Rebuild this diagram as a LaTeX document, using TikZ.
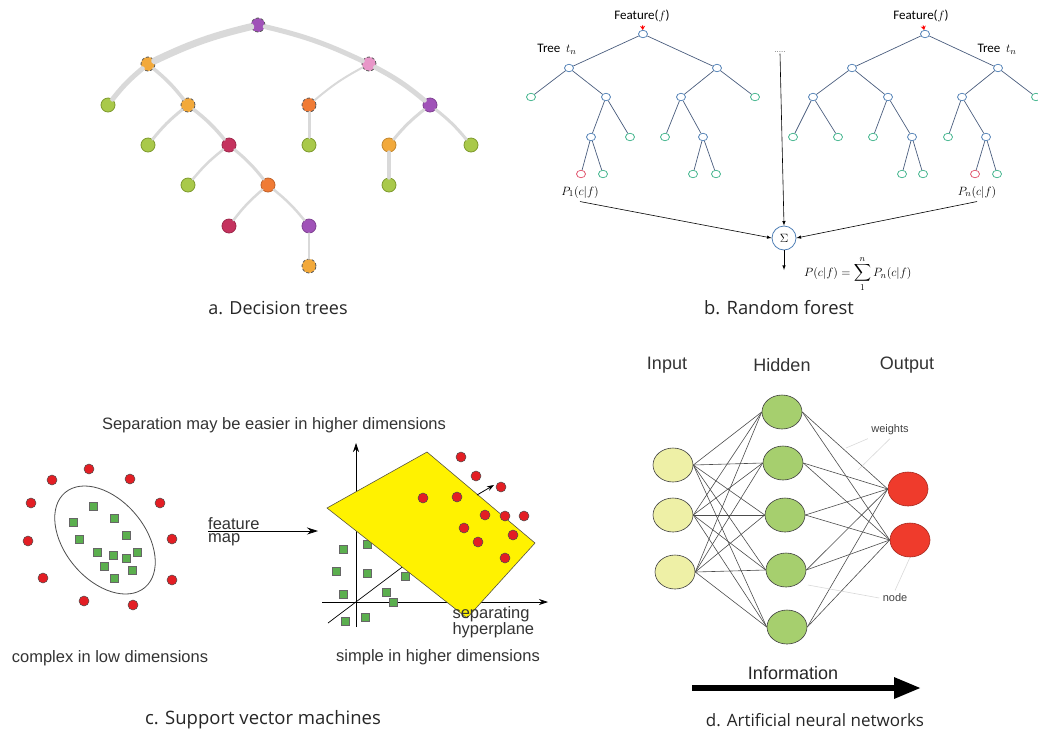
\documentclass[tikz,border=0pt]{standalone}
\usepackage{amsmath}
\usepackage{fontspec}
\setmainfont{Liberation Sans}
\newfontfamily\capfont{Open Sans}
\newfontfamily\rffont{Carlito}
\usepackage{tikz}
\usetikzlibrary{positioning,arrows.meta,shapes.geometric}

\definecolor{dtgray}{HTML}{D9D9D9}
\definecolor{dtgreen}{HTML}{A9C94A}
\definecolor{dtgreenline}{HTML}{7E9A2E}
\definecolor{dtorange}{HTML}{F2A93B}
\definecolor{dtorred}{HTML}{F07B35}
\definecolor{dtpurple}{HTML}{A052B8}
\definecolor{dtpink}{HTML}{E896C8}
\definecolor{dtcrimson}{HTML}{C5325E}
\definecolor{rfblue}{HTML}{4F7FB5}
\definecolor{rfline}{HTML}{4A5D7E}
\definecolor{rfgreen}{HTML}{3DB38A}
\definecolor{rfred}{HTML}{E0506A}
\definecolor{svred}{HTML}{E31E24}
\definecolor{svgreen}{HTML}{5BAF4E}
\definecolor{svyellow}{HTML}{FFF200}
\definecolor{annyel}{HTML}{EEF0A6}
\definecolor{anngreen}{HTML}{A6CF6E}
\definecolor{annred}{HTML}{EF3B2C}

\tikzset{
	dtnode/.style={circle,minimum size=14pt,inner sep=0pt,line width=0.8pt},
	dtleaf/.style={dtnode,fill=dtgreen,draw=dtgreenline},
	dtdash/.style={dtnode,draw=black!65,densely dashed},
	dtedge/.style={draw=dtgray,line cap=round},
	rfnode/.style={ellipse,minimum width=9pt,minimum height=7.5pt,inner sep=0pt,draw=rfblue,fill=white,line width=0.7pt},
	rfleaf/.style={rfnode,draw=rfgreen},
	rfedge/.style={draw=rfline,line width=0.7pt},
	svdot/.style={circle,minimum size=10pt,inner sep=0pt,fill=svred,draw=black!70,line width=0.5pt},
	svsq/.style={rectangle,minimum size=7.5pt,inner sep=0pt,fill=svgreen,draw=black!60,line width=0.5pt},
	annnode/.style={ellipse,minimum width=40pt,minimum height=34pt,inner sep=0pt,draw=black!75,line width=0.6pt},
	annedge/.style={draw=black!70,line width=0.6pt},
	caption/.style={font=\capfont\fontsize{18}{21}\selectfont,text=black!85},
	svtext/.style={font=\fontsize{16.5}{19}\selectfont,text=black!80},
	rftext/.style={font=\rffont\fontsize{13}{15}\selectfont}
}

\begin{document}
\begin{tikzpicture}[x=1pt,y=-1pt]
	\useasboundingbox (0,0) rectangle (1038,732);

	% a. decision tree
	\foreach \n/\x/\y/\s in {dt0/258/25/dtpurple, dt1/148/64/dtorange, dt2/369/64/dtpink,
		dt4/188/105/dtorange, dt5/309/105/dtorred, dt17/309/266/dtorange}
		\node[dtdash,fill=\s] (\n) at (\x,\y) {};
	\foreach \n/\x/\y/\s in {dt6/430/105/dtpurple, dt8/229/145/dtcrimson, dt10/389/145/dtorange,
		dt13/268/185/dtorred, dt15/229/226/dtcrimson, dt16/309/226/dtpurple}
		\node[dtnode,fill=\s,draw=\s!80!black] (\n) at (\x,\y) {};
	\foreach \n/\x/\y in {dt3/108/105, dt7/148/145, dt9/309/145, dt11/471/145, dt12/188/185, dt14/389/185}
		\node[dtleaf] (\n) at (\x,\y) {};

	\foreach \a/\b/\w in {dt0/dt1/7, dt1/dt3/5, dt4/dt7/3, dt8/dt12/2.5, dt13/dt15/2.5, dt2/dt5/2, dt6/dt10/3}
		\draw[dtedge,line width=\w pt] (\a) to[bend right=6] (\b);
	\foreach \a/\b/\w in {dt0/dt2/5, dt1/dt4/3.5, dt4/dt8/3.5, dt8/dt13/3, dt13/dt16/2.5, dt2/dt6/5, dt6/dt11/3}
		\draw[dtedge,line width=\w pt] (\a) to[bend left=6] (\b);
	\foreach \a/\b/\w in {dt16/dt17/2.5, dt5/dt9/3, dt10/dt14/4}
		\draw[dtedge,line width=\w pt] (\a) -- (\b);

	\node[caption] (capa) at (278,308) {a. Decision trees};

	% b. random forest
	\foreach \n/\x/\y in {a0/643/34, a1/569/68, a2/717/68, a4/606/97, a5/681/97, a7/591/137, a10/703/137,
		b0/925/34, b1/852/68, b2/998/68, b3/813/97, b4/888/97, b5/962/97, b10/912/137, b12/986/137}
		\node[rfnode] (\n) at (\x,\y) {};
	\foreach \n/\x/\y in {a3/531/97, a6/755/97, a8/630/137, a9/665/137, a12/603/174, a13/693/174, a14/716/174,
		b6/1036/97, b7/793/137, b8/838/137, b9/873/137, b11/948/137, b13/902/174, b14/923/174, b16/997/174}
		\node[rfleaf] (\n) at (\x,\y) {};
	\node[rfnode,draw=rfred] (a11) at (581,174) {};
	\node[rfnode,draw=rfred] (b15) at (975,174) {};

	\foreach \a/\b in {a0/a1, a0/a2, a1/a3, a1/a4, a2/a5, a2/a6, a4/a7, a4/a8, a5/a9, a5/a10,
		a7/a11, a7/a12, a10/a13, a10/a14,
		b0/b1, b0/b2, b1/b3, b1/b4, b2/b5, b2/b6, b3/b7, b3/b8, b4/b9, b4/b10,
		b5/b11, b5/b12, b10/b13, b10/b14, b12/b15, b12/b16}
		\draw[rfedge] (\a) -- (\b);

	\node[rftext] (feat1) at (642,16) {Feature($f$)};
	\node[rftext] (feat2) at (921,16) {Feature($f$)};
	\node[rftext] (tree1) at (557,49) {Tree\ \ $t_n$};
	\node[rftext] (tree2) at (997,49) {Tree\ \ $t_n$};
	\draw[red,line width=1pt,-{Stealth[length=4pt,width=5pt]}] (feat1) -- (a0);
	\draw[red,line width=1pt,-{Stealth[length=4pt,width=5pt]}] (feat2) -- (b0);

	\node[rftext] (p1) at (580,192) {$P_1(c|f)$};
	\node[rftext] (pn) at (977,192) {$P_n(c|f)$};
	\node[font=\fontsize{8}{9}\selectfont,inner sep=1pt,text=black!60] (dots) at (780,52) {.....};
	\node[circle,draw=rfblue,line width=0.8pt,minimum size=24pt,inner sep=0pt,rftext] (sum) at (784,238) {$\Sigma$};
	\coordinate (sumout) at (784,270);
	\node[rftext,anchor=west,inner sep=0pt] (pcf) at (804,274) {$P(c|f)=\displaystyle\sum_{1}^{n}P_n(c|f)$};

	\draw[-latex,line width=0.6pt] (p1.south) -- (sum.west);
	\draw[-latex,line width=0.6pt] (pn.south) -- (sum.east);
	\draw[-latex,line width=0.6pt] (dots.south) -- (sum.north);
	\draw[-latex,line width=0.6pt] (sum.south) -- (sumout);

	\node[caption,font=\capfont\fontsize{18.4}{21}\selectfont] (capb) at (779,308) {b. Random forest};

	% c. support vector machines
	\node[svtext] (septxt) at (274,425) {Separation may be easier in higher dimensions};
	\draw[black!70,line width=0.8pt,rotate around={-50:(105,540)}] (105,540) ellipse [x radius=62, y radius=40];
	\foreach \x/\y [count=\i] in {93/506, 73/522, 114/518, 79/539, 126/535, 97/552, 113/555, 126/558,
		137/552, 104/566, 132/570, 114/578}
		\node[svsq] (sq\i) at (\x,\y) {};
	\foreach \x/\y [count=\i] in {89/469, 52/480, 130/479, 31/503, 160/503, 28/541, 172/539, 43/578,
		172/580, 84/601, 133/605}
		\node[svdot] (rd\i) at (\x,\y) {};

	\coordinate (fmstart) at (208,531);
	\coordinate (fmend) at (318,531);
	\draw[line width=0.8pt,-{Stealth[length=11pt,width=7pt]}] (fmstart) -- (fmend);
	\node[svtext,anchor=south west,inner sep=0pt] (feat) at ([yshift=1.5pt]fmstart) {feature};
	\node[svtext,anchor=north west,inner sep=0pt] (fmap) at ([yshift=-2.5pt]fmstart) {map};

	% axes
	\coordinate (orig) at (356,602);
	\coordinate (yend) at (356,443);
	\coordinate (ybot) at (356,627);
	\coordinate (xend) at (548,602);
	\coordinate (xbot) at (322,602);
	\coordinate (zbot) at (328,623);
	\coordinate (ztop) at (405,565);
	\draw[line width=0.7pt,-{Stealth[length=9pt,width=6pt]}] (ybot) -- (yend);
	\draw[line width=0.7pt,-{Stealth[length=9pt,width=6pt]}] (xbot) -- (xend);
	\draw[line width=0.7pt] (zbot) -- (ztop);

	\foreach \x/\y [count=\i] in {343/549, 367/544, 336/571, 367/573, 343/594, 386/592, 393/602,
		345/621, 365/617, 405/576}
		\node[svsq] (gq\i) at (\x,\y) {};

	\filldraw[fill=svyellow,draw=black!60!yellow!60!black,line width=0.6pt]
		(327,508) -- (427,452) -- (535,543) -- (467,618) -- cycle;

	\foreach \x/\y [count=\i] in {461/457, 476/476, 501/487, 423/498, 457/497, 485/515, 505/516,
		524/516, 464/528, 513/535, 478/542, 505/558}
		\node[svdot] (hd\i) at (\x,\y) {};
	\coordinate (nstart) at (477,495);
	\coordinate (nend) at (494,485);
	\draw[line width=0.8pt,-{Stealth[length=7pt,width=5pt]}] (nstart) -- (nend);

	\node[svtext,align=left,anchor=west,font=\fontsize{16.5}{15}\selectfont] (hyp) at (449,622) {separating\\hyperplane};
	\node[svtext] (lowtxt) at (110,658) {complex in low dimensions};
	\node[svtext] (hightxt) at (438,657) {simple in higher dimensions};

	\node[caption,font=\capfont\fontsize{18.5}{22}\selectfont] (capc) at (263,720) {c. Support vector machines};

	% d. artificial neural network
	\node[annnode,fill=annyel] (in1) at (673,465) {};
	\node[annnode,fill=annyel] (in2) at (673,515) {};
	\node[annnode,fill=annyel] (in3) at (675,572) {};
	\node[annnode,fill=anngreen] (h1) at (782,412) {};
	\node[annnode,fill=anngreen] (h2) at (783,463) {};
	\node[annnode,fill=anngreen] (h3) at (785,515) {};
	\node[annnode,fill=anngreen] (h4) at (786,570) {};
	\node[annnode,fill=anngreen] (h5) at (787,627) {};
	\node[annnode,fill=annred,draw=annred!70!black] (o1) at (908,489) {};
	\node[annnode,fill=annred,draw=annred!70!black] (o2) at (910,540) {};

	\foreach \i in {1,2,3}
		\foreach \j in {1,...,5}
			\draw[annedge] (in\i.east) -- (h\j.west);
	\foreach \j in {1,...,5}
		\foreach \k in {1,2}
			\draw[annedge] (h\j.east) -- (o\k.west);

	\node[font=\fontsize{18}{21}\selectfont,text=black!80] (inlbl) at (667,365) {Input};
	\node[font=\fontsize{18}{21}\selectfont,text=black!80] (hidlbl) at (782,365) {Hidden};
	\node[font=\fontsize{18}{21}\selectfont,text=black!80] (outlbl) at (907,365) {Output};

	\node[font=\fontsize{11}{13}\selectfont,text=black!75] (wlbl) at (890,430) {weights};
	\node[font=\fontsize{11}{13}\selectfont,text=black!75] (nlbl) at (895,598) {node};
	\coordinate (w1) at (846,448);
	\coordinate (w2) at (858,470);
	\coordinate (n1) at (808,585);
	\draw[black!15,line width=0.6pt] (wlbl.south west) -- (w1);
	\draw[black!15,line width=0.6pt] (wlbl.south) -- (w2);
	\draw[black!15,line width=0.6pt] (nlbl.north) -- (o2.south);
	\draw[black!15,line width=0.6pt] (nlbl.west) -- (n1);

	\node[font=\fontsize{18}{21}\selectfont,text=black!85] (info) at (793,673) {Information};
	\coordinate (infostart) at (692,688);
	\coordinate (infoend) at (921,688);
	\draw[line width=6pt,-{Triangle[length=27pt,width=20pt]}] (infostart) -- (infoend);

	\node[caption,font=\capfont\fontsize{17}{20}\selectfont] (capd) at (815,720) {d. Artificial neural networks};

\end{tikzpicture}
\end{document}
